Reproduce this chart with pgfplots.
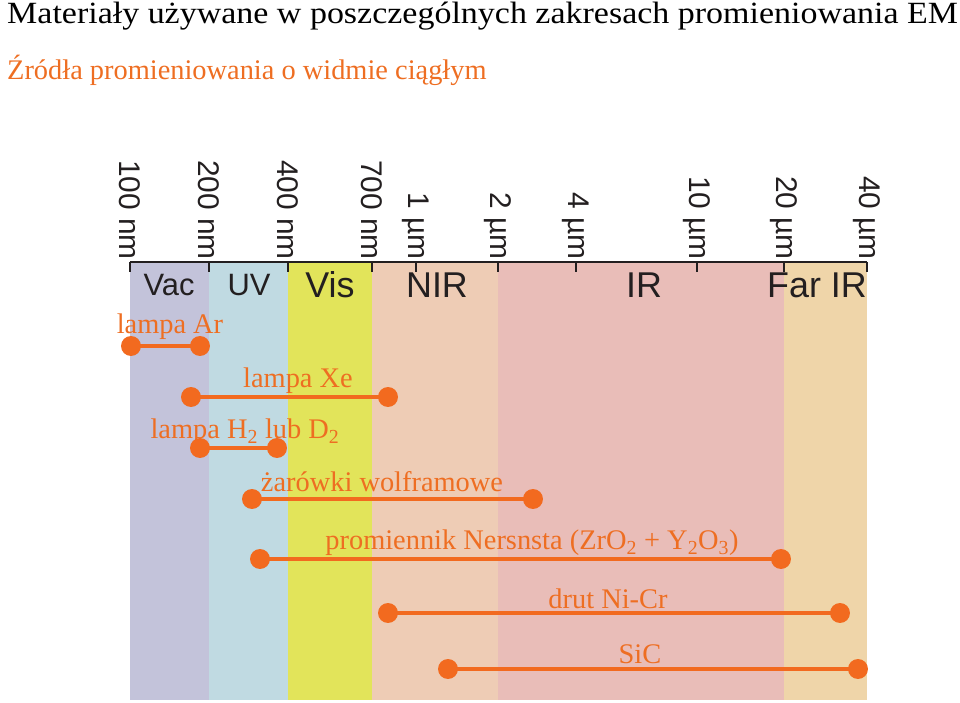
\documentclass[border=0pt]{standalone}
\usepackage{fontspec}
\setmainfont{Liberation Serif}
\setsansfont{Liberation Sans}
\usepackage{pgfplots}
\pgfplotsset{compat=1.18}
\definecolor{cVac}{HTML}{C3C3DA}
\definecolor{cUV}{HTML}{C0DAE2}
\definecolor{cVis}{HTML}{E2E45A}
\definecolor{cNIR}{HTML}{EECCB5}
\definecolor{cIR}{HTML}{E9BDB8}
\definecolor{cFIR}{HTML}{EFD5A9}
\definecolor{org}{HTML}{F26A1F}
\definecolor{orgt}{HTML}{EE6E22}
\definecolor{dk}{HTML}{231F20}
\begin{document}
\begin{tikzpicture}
\begin{axis}[
  scale only axis, width=737bp, height=438bp,
  xmin=130, xmax=867, ymin=3, ymax=441,
  clip=false, axis on top,
  axis x line=top, axis y line=none,
  axis line style={-, line width=2.4bp, color=dk},
  xtick={130,209,288,372,416,498,576,697,784,867},
  xticklabels={100 nm,200 nm,400 nm,700 nm,1 µm,2 µm,4 µm,10 µm,20 µm,40 µm},
  xticklabel style={rotate=-90, anchor=east, font=\sffamily\fontsize{30}{30}\selectfont, text=dk, inner sep=2bp},
  tick align=inside, major tick length=10bp,
  every tick/.style={line width=2bp, color=dk},
]
\path (axis cs:0,0) rectangle (axis cs:960,703);
% bands
\addplot[fill=cVac, draw=none] coordinates {(130,3) (209,3) (209,441) (130,441)} -- cycle;
\addplot[fill=cUV, draw=none] coordinates {(209,3) (288,3) (288,441) (209,441)} -- cycle;
\addplot[fill=cVis, draw=none] coordinates {(288,3) (372,3) (372,441) (288,441)} -- cycle;
\addplot[fill=cNIR, draw=none] coordinates {(372,3) (498,3) (498,441) (372,441)} -- cycle;
\addplot[fill=cIR, draw=none] coordinates {(498,3) (784,3) (784,441) (498,441)} -- cycle;
\addplot[fill=cFIR, draw=none] coordinates {(784,3) (867,3) (867,441) (784,441)} -- cycle;
% band labels
\begin{scope}[every node/.style={font=\sffamily\fontsize{31}{31}\selectfont, text=dk}]
\node at (axis cs:169,418) {Vac};
\node at (axis cs:249,418) {UV};
\end{scope}
\begin{scope}[every node/.style={font=\sffamily\fontsize{36}{36}\selectfont, text=dk, inner sep=0pt}]
\node at (axis cs:330,418) {Vis};
\node at (axis cs:437,418) {NIR};
\node at (axis cs:644,418) {IR};
\node at (axis cs:817,418) {Far IR};
\end{scope}
% source ranges
\addplot[org, line width=3.5bp, mark=*, mark size=8.2bp, mark options={fill=org, draw=none}] coordinates {(131,357) (200,357)};
\addplot[org, line width=3.5bp, mark=*, mark size=8.2bp, mark options={fill=org, draw=none}] coordinates {(191,306) (388,306)};
\addplot[org, line width=3.5bp, mark=*, mark size=8.2bp, mark options={fill=org, draw=none}] coordinates {(200,255) (277,255)};
\addplot[org, line width=3.5bp, mark=*, mark size=8.2bp, mark options={fill=org, draw=none}] coordinates {(252,204) (533,204)};
\addplot[org, line width=3.5bp, mark=*, mark size=8.2bp, mark options={fill=org, draw=none}] coordinates {(260,144) (781,144)};
\addplot[org, line width=3.5bp, mark=*, mark size=8.2bp, mark options={fill=org, draw=none}] coordinates {(388,90) (840,90)};
\addplot[org, line width=3.5bp, mark=*, mark size=8.2bp, mark options={fill=org, draw=none}] coordinates {(448,34) (858,34)};
% source labels
\begin{scope}[every node/.style={font=\fontsize{28.5}{28.5}\selectfont, text=orgt, inner sep=0pt}]
\node at (axis cs:170,376) {lampa Ar};
\node at (axis cs:298,322) {lampa Xe};
\node at (axis cs:245,271) {lampa H\textsubscript{2} lub D\textsubscript{2}};
\node at (axis cs:382,221) {żarówki wolframowe};
\node at (axis cs:532,160) {promiennik Nersnsta (ZrO\textsubscript{2} + Y\textsubscript{2}O\textsubscript{3})};
\node at (axis cs:608,104) {drut Ni-Cr};
\node at (axis cs:640,49) {SiC};
\end{scope}
% titles
\node[anchor=west, inner sep=0pt, xscale=1.1, font=\fontsize{31}{31}\selectfont, text=black] at (axis cs:7,687) {Materiały używane w poszczególnych zakresach promieniowania EM};
\node[anchor=west, inner sep=0pt, font=\fontsize{28.5}{28.5}\selectfont, text=orgt] at (axis cs:7,633) {Źródła promieniowania o widmie ciągłym};
\end{axis}
\end{tikzpicture}
\end{document}
